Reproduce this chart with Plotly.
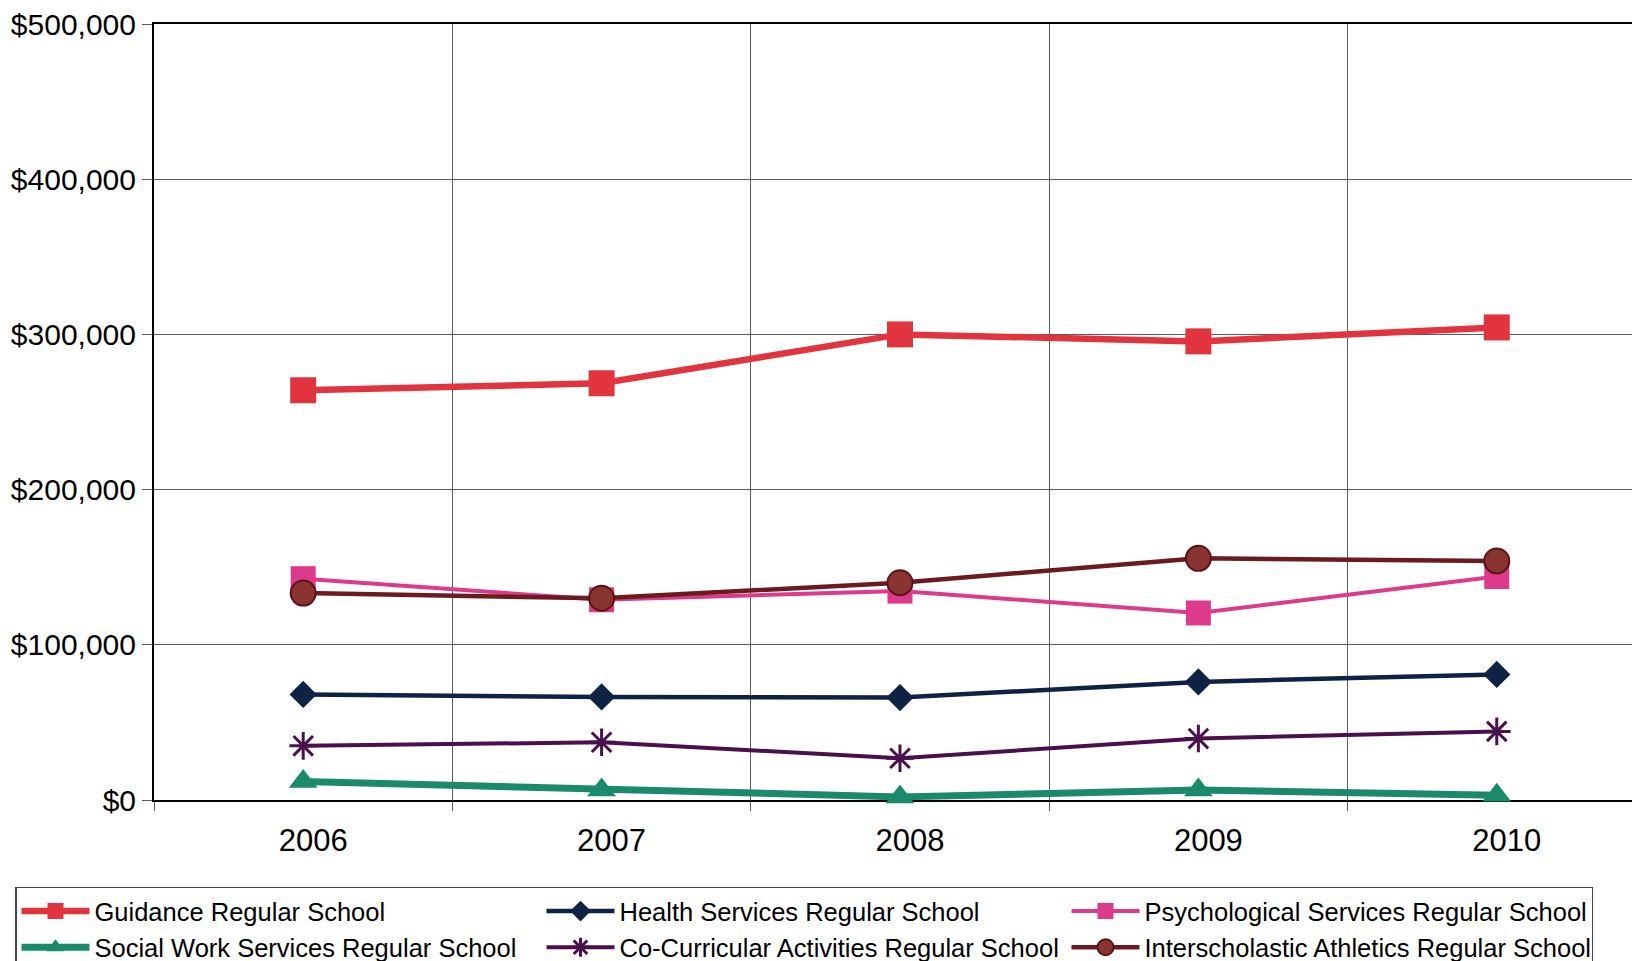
import plotly.graph_objects as go

years = ["2006", "2007", "2008", "2009", "2010"]
guidance = [264000, 268500, 300000, 295500, 304500]
health = [68000, 66400, 66000, 76100, 80900]
psych = [142600, 129000, 134600, 120500, 144000]
social = [12000, 6500, 2000, 6500, 3000]
cocurr = [34900, 37200, 26900, 39600, 44200]
athletics = [133300, 130000, 140000, 155700, 154000]

names = [
    "Guidance Regular School",
    "Health Services Regular School",
    "Psychological Services Regular School",
    "Social Work Services Regular School",
    "Co-Curricular Activities Regular School",
    "Interscholastic Athletics Regular School",
]

FONT = "Liberation Sans, Arial, sans-serif"

fig = go.Figure()

fig.add_trace(go.Scatter(
    x=years, y=guidance, name=names[0], mode="lines+markers",
    line=dict(color="#E2343F", width=6.5),
    marker=dict(symbol="square", size=26, color="#E2343F"),
    cliponaxis=False))
fig.add_trace(go.Scatter(
    x=years, y=health, name=names[1], mode="lines+markers",
    line=dict(color="#0E2344", width=4.5),
    marker=dict(symbol="diamond", size=21, color="#0E2344"),
    cliponaxis=False))
fig.add_trace(go.Scatter(
    x=years, y=psych, name=names[2], mode="lines+markers",
    line=dict(color="#DE3A8C", width=4),
    marker=dict(symbol="square", size=25, color="#DE3A8C"),
    cliponaxis=False))
fig.add_trace(go.Scatter(
    x=years, y=social, name=names[3], mode="lines+markers",
    line=dict(color="#1B8A6B", width=7),
    marker=dict(symbol="triangle-up", size=25, color="#1B8A6B"),
    cliponaxis=False))
fig.add_trace(go.Scatter(
    x=years, y=cocurr, name=names[4], mode="lines+markers",
    line=dict(color="#4A0F4D", width=4),
    marker=dict(symbol="asterisk-open", size=23, color="#4A0F4D",
                line=dict(color="#2E0830", width=3)),
    cliponaxis=False))
fig.add_trace(go.Scatter(
    x=years, y=athletics, name=names[5], mode="lines+markers",
    line=dict(color="#6B1A1F", width=4.5),
    marker=dict(symbol="circle", size=25, color="#8A3432",
                line=dict(color="#5A1418", width=2)),
    cliponaxis=False))

# The page body shifts the figure by 8px; the figure is taller than the
# window so the legend never pushes the margins (its lower edge is cut off,
# as in the reference).
FIG_H = 1010
fig.update_layout(
    width=1640, height=FIG_H,
    margin=dict(l=145, r=8, t=16, b=FIG_H - 792),
    paper_bgcolor="white", plot_bgcolor="white",
    font=dict(family=FONT, color="black"),
    showlegend=True,
    legend=dict(
        orientation="h",
        x=-0.0928, xanchor="left",
        y=-0.1115, yanchor="top",
        font=dict(family=FONT, size=25.5, color="black"),
        bordercolor="#444", borderwidth=1.5, bgcolor="white",
        entrywidth=442, entrywidthmode="pixels",
        itemwidth=68,
        traceorder="normal",
        tracegroupgap=0,
    ),
)

fig.update_xaxes(
    type="category",
    range=[-0.5, 4.48],
    tickson="boundaries",
    showgrid=True, gridcolor="#5c5c5c", gridwidth=1,
    ticks="outside", ticklen=9, tickcolor="#5c5c5c", tickwidth=1,
    showline=True, linecolor="black", linewidth=2, mirror=True,
    tickfont=dict(family=FONT, size=31, color="black"),
    ticklabelstandoff=12,
    ticklabelshift=10,
    ticklabeloverflow="allow",
    layer="below traces",
    zeroline=False,
    automargin=False,
)

fig.update_yaxes(
    range=[0, 500000],
    dtick=100000,
    tickprefix="$", tickformat=",",
    showgrid=True, gridcolor="#5c5c5c", gridwidth=1,
    ticks="outside", ticklen=10, tickcolor="#5c5c5c", tickwidth=1,
    showline=True, linecolor="black", linewidth=2,
    tickfont=dict(family=FONT, size=30, color="black"),
    ticklabeloverflow="allow",
    layer="below traces",
    zeroline=False,
    automargin=False,
)

fig.write_html("out.html")
